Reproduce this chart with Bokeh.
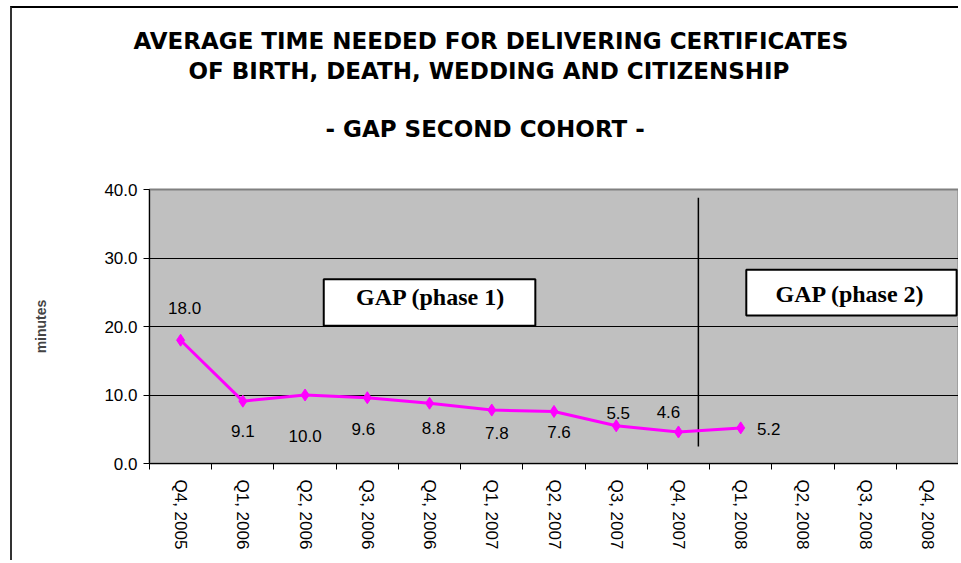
from bokeh.plotting import figure
from bokeh.models import (Range1d, FixedTicker, ColumnDataSource, BoxAnnotation,
                          Label, Title, PrintfTickFormatter)
from bokeh.embed import file_html
from bokeh.resources import INLINE

# ---------------- data ----------------
quarters = ["Q4, 2005", "Q1, 2006", "Q2, 2006", "Q3, 2006", "Q4, 2006",
            "Q1, 2007", "Q2, 2007", "Q3, 2007", "Q4, 2007", "Q1, 2008",
            "Q2, 2008", "Q3, 2008", "Q4, 2008"]
minutes = [18.0, 9.1, 10.0, 9.6, 8.8, 7.8, 7.6, 5.5, 4.6, 5.2]
y_ticks = [0, 10, 20, 30, 40]
title_line1 = "AVERAGE TIME NEEDED FOR DELIVERING CERTIFICATES"
title_line2 = "OF BIRTH, DEATH, WEDDING AND CITIZENSHIP"
subtitle = "- GAP SECOND COHORT -"
phase_names = ["GAP (phase 1)", "GAP (phase 2)"]
y_label = "minutes"

# ---------------- layout / style ----------------
label_dx = [4, 0, 0, -4, 4, 5, 5, 2, -10, 28]
label_dy = [-32, 30, 41, 31, 25, 23, 21, -13, -20, 1]
phase_boundary = 8.82
phase_line_y = (2.5, 38.8)
box_specs = [dict(left=2.80, right=6.20, bottom=20.1, top=26.9, tx=4.52, ty=24.3),
             dict(left=9.59, right=12.97, bottom=21.6, top=28.3, tx=11.26, ty=24.8)]
MAG = "#FF00FF"
FONT = "Liberation Sans"
TFONT = "DejaVu Sans"
TSIZE = "23px"

n = len(quarters)
centers = [i + 0.5 for i in range(n)]
bounds = [float(i) for i in range(n + 1)]

p = figure(width=948, height=554, output_backend="svg", toolbar_location=None,
           x_range=Range1d(0, n), y_range=Range1d(0, 40),
           min_border_left=137, min_border_right=2, min_border_bottom=99,
           min_border_top=181)
p.styles = {"border-left": "2px solid #333333", "border-top": "2px solid #000000",
            "margin-left": "10px", "margin-top": "6px"}
p.background_fill_color = "#C0C0C0"
p.border_fill_color = "white"
p.outline_line_color = "#808080"
p.outline_line_width = 2

# titles: p.title is outermost; 'above' list is stacked from the frame outward
p.title.text = title_line1
p.title.align = "left"
p.title.offset = -16
p.title.standoff = 0
p.title.text_font = TFONT
p.title.text_font_size = TSIZE
p.title.text_font_style = "bold"
p.title.text_color = "black"

spacer = Title(text=" ", text_font_size="10px", standoff=7)
sub = Title(text=subtitle, align="left", offset=176, standoff=56, text_font=TFONT,
            text_font_size=TSIZE, text_font_style="bold", text_color="black")
line2 = Title(text=title_line2, align="left", offset=39, standoff=4, text_font=TFONT,
              text_font_size=TSIZE, text_font_style="bold", text_color="black")
p.add_layout(spacer, "above")
p.add_layout(sub, "above")
p.add_layout(line2, "above")

# axes
p.xgrid.visible = False
p.ygrid.ticker = FixedTicker(ticks=y_ticks)
p.ygrid.grid_line_color = "black"
p.ygrid.grid_line_width = 1

xa = p.xaxis[0]
xa.ticker = FixedTicker(ticks=centers, minor_ticks=bounds)
xa.major_label_overrides = {c: q for c, q in zip(centers, quarters)}
xa.major_label_orientation = "vertical"
xa.major_tick_line_color = None
xa.major_tick_out = 6
xa.minor_tick_out = 6
xa.minor_tick_in = 0
xa.minor_tick_line_color = "black"
xa.axis_line_color = "black"
xa.major_label_text_font = FONT
xa.major_label_text_font_size = "17px"
xa.major_label_text_color = "black"
xa.major_label_standoff = 10

ya = p.yaxis[0]
ya.ticker = FixedTicker(ticks=y_ticks)
ya.formatter = PrintfTickFormatter(format="%.1f")
ya.major_tick_out = 6
ya.major_tick_in = 0
ya.minor_tick_line_color = None
ya.axis_line_color = "black"
ya.major_label_text_font = FONT
ya.major_label_text_font_size = "17px"
ya.major_label_text_color = "black"
ya.major_label_standoff = 6
ya.axis_label = y_label
ya.axis_label_text_font = FONT
ya.axis_label_text_font_size = "14px"
ya.axis_label_text_font_style = "bold"
ya.axis_label_standoff = 52

# phase boxes
for spec, name in zip(box_specs, phase_names):
    p.add_layout(BoxAnnotation(left=spec["left"], right=spec["right"],
                               bottom=spec["bottom"], top=spec["top"],
                               fill_color="white", fill_alpha=1.0,
                               line_color="black", line_alpha=1.0, line_width=2,
                               level="overlay"))
    p.add_layout(Label(x=spec["tx"], y=spec["ty"], text=name, text_align="center",
                       text_baseline="middle", text_font="Liberation Serif",
                       text_font_size="24px", text_font_style="bold",
                       text_color="black", level="overlay"))

# phase separator
p.segment(x0=[phase_boundary], x1=[phase_boundary], y0=[phase_line_y[0]],
          y1=[phase_line_y[1]], line_color="black", line_width=1.5)

# series
src = ColumnDataSource(dict(x=centers[:len(minutes)], y=minutes,
                            lab=[f"{v:.1f}" for v in minutes],
                            dx=label_dx, dy=label_dy))
p.line("x", "y", source=src, line_color=MAG, line_width=3)
p.scatter("x", "y", source=src, marker="diamond", size=12, color=MAG)
p.text("x", "y", text="lab", source=src, x_offset="dx", y_offset="dy",
       text_align="center", text_baseline="middle", text_font_size="17px",
       text_font={"value": FONT}, text_color="black")

open("out.html", "w").write(file_html(p, INLINE))
